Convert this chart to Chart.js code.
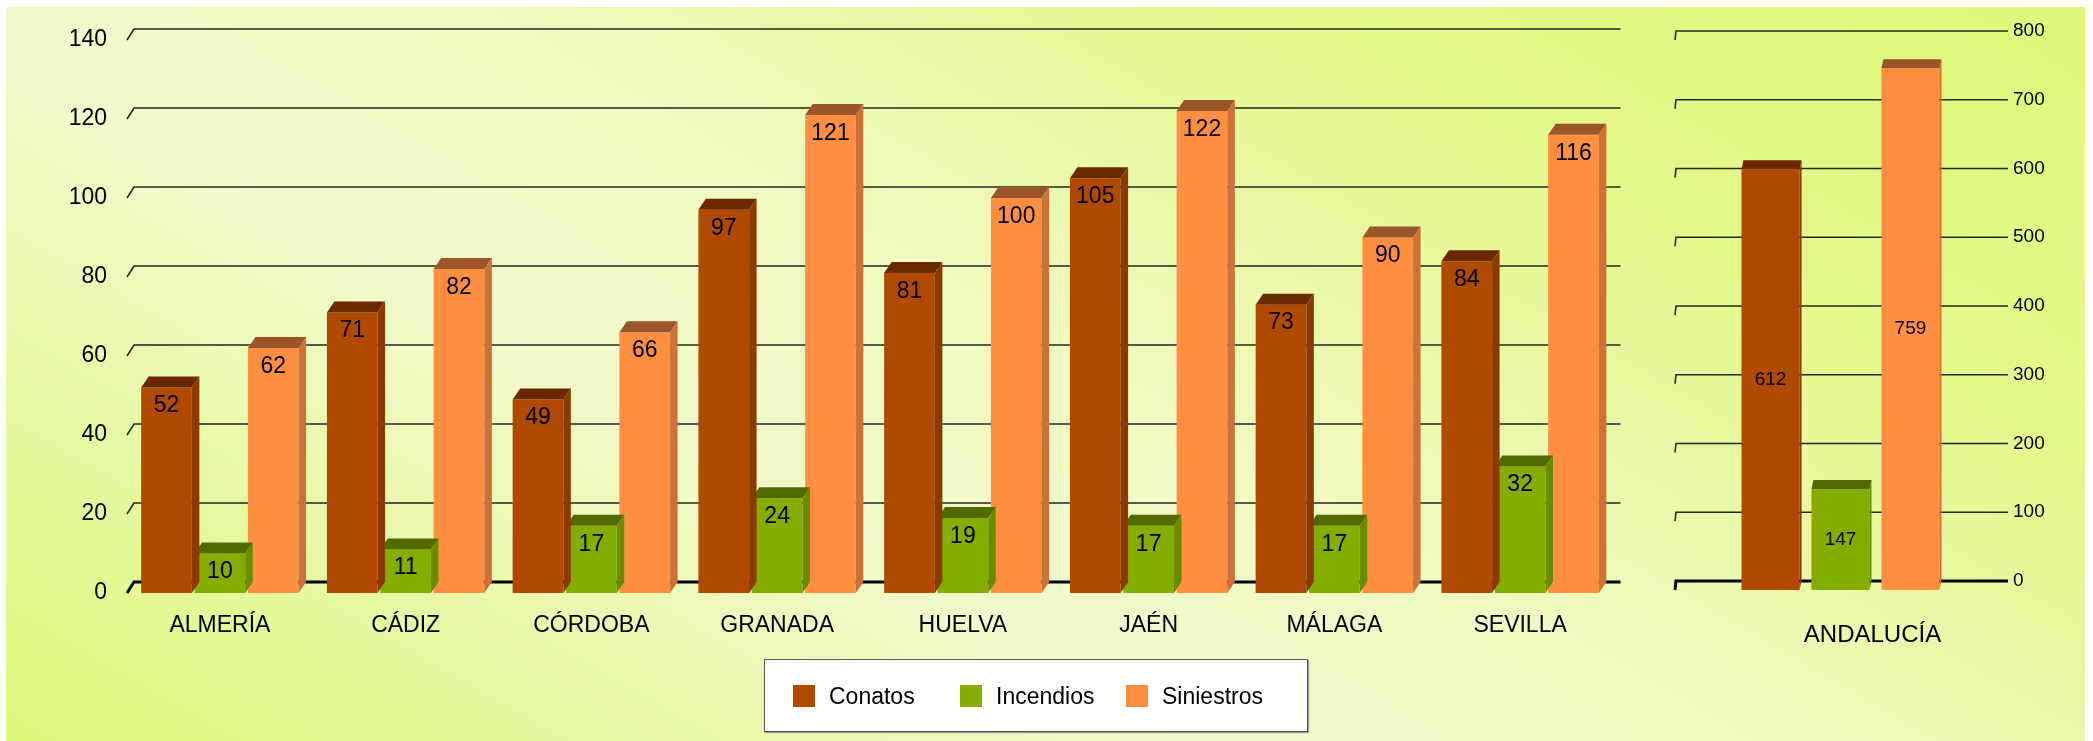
<!DOCTYPE html>
<html lang="es">
<head>
    <meta charset="UTF-8">
    <title>Conatos, incendios y siniestros por provincia</title>
    <script src="https://cdn.jsdelivr.net/npm/chart.js"></script>
    <style>
        body { margin: 0; width: 2093px; height: 741px; background: #fff; overflow: hidden;
               font-family: "Liberation Sans", Arial, sans-serif; }
        #fondo { position: absolute; left: 6px; top: 7px; width: 2079px; height: 734px;
                 background: linear-gradient(30deg, #def87a 0%, #f1f9cc 36%, #eff9c0 52%, #e4f88c 76%, #dff879 100%); }
        canvas { position: absolute; top: 0; }
        #izq { left: 0; }
        #der { left: 1640px; }
        #leyenda { position: absolute; left: 764px; top: 659px; width: 542px; height: 71px;
                   background: #fff; border: 1px solid #555; box-shadow: 1px 1px 1px #999; }
        #leyenda span { position: absolute; top: 25px; font-size: 23px; line-height: 23px; color: #000; }
        #leyenda i { position: absolute; top: 25px; width: 22px; height: 22px; }
    </style>
</head>
<body>
    <div id="fondo"></div>
    <canvas id="izq" width="1640" height="741"></canvas>
    <canvas id="der" width="453" height="741"></canvas>
    <div id="leyenda"></div>

    <script>
        // datos
        const provincias = ['ALMERÍA', 'CÁDIZ', 'CÓRDOBA', 'GRANADA', 'HUELVA', 'JAÉN', 'MÁLAGA', 'SEVILLA'];
        const conatos = [52, 71, 49, 97, 81, 105, 73, 84];
        const incendios = [10, 11, 17, 24, 19, 17, 17, 32];
        const siniestros = [62, 82, 66, 121, 100, 122, 90, 116];

        const total = ['ANDALUCÍA'];
        const totalConatos = [612];
        const totalIncendios = [147];
        const totalSiniestros = [759];

        const series = ['Conatos', 'Incendios', 'Siniestros'];
        const ejeIzq = { max: 140, paso: 20 };
        const ejeDer = { max: 800, paso: 100 };

        // colores: frente, tapa, lateral
        const colores = [
            ['#b04a00', '#6a2900', '#8c3a00'],
            ['#84ad00', '#506a00', '#6a8d00'],
            ['#ff8f40', '#9a5529', '#cd7136']
        ];

        const fuente = '"Liberation Sans", Arial, sans-serif';

        // dibuja rejilla en perspectiva y las caras 3D de las barras
        const cubo = {
            id: 'cubo',
            beforeDatasetsDraw(chart, args, o) {
                const ctx = chart.ctx, a = chart.chartArea, y = chart.scales.y;
                ctx.save();
                y.ticks.forEach(t => {
                    const py = y.getPixelForValue(t.value);
                    ctx.beginPath();
                    ctx.lineWidth = t.value === 0 ? 3 : 1.6;
                    ctx.strokeStyle = t.value === 0 ? '#000' : '#262620';
                    ctx.moveTo(a.left, py);
                    ctx.lineTo(a.left + o.gx, py - o.dy);
                    ctx.lineTo(a.right + o.dx, py - o.dy);
                    ctx.stroke();
                });
                ctx.restore();
            },
            afterDatasetDraw(chart, args, o) {
                const ctx = chart.ctx, c = colores[args.index];
                ctx.save();
                args.meta.data.forEach(bar => {
                    const p = bar.getProps(['x', 'y', 'base', 'width'], true);
                    const l = p.x - p.width / 2, r = p.x + p.width / 2;
                    ctx.fillStyle = c[1];
                    ctx.beginPath();
                    ctx.moveTo(l, p.y); ctx.lineTo(l + o.dx, p.y - o.dy);
                    ctx.lineTo(r + o.dx, p.y - o.dy); ctx.lineTo(r, p.y);
                    ctx.fill();
                    ctx.fillStyle = c[2];
                    ctx.beginPath();
                    ctx.moveTo(r, p.y); ctx.lineTo(r + o.dx, p.y - o.dy);
                    ctx.lineTo(r + o.dx, p.base - o.dy); ctx.lineTo(r, p.base);
                    ctx.fill();
                });
                ctx.restore();
            },
            afterDatasetsDraw(chart, args, o) {
                const ctx = chart.ctx;
                ctx.save();
                ctx.fillStyle = '#000';
                ctx.font = o.etiqueta + 'px ' + fuente;
                ctx.textAlign = 'center';
                ctx.textBaseline = 'middle';
                chart.data.datasets.forEach((ds, d) => {
                    chart.getDatasetMeta(d).data.forEach((bar, i) => {
                        const p = bar.getProps(['x', 'y', 'base'], true);
                        const ty = o.centro ? (p.y + p.base) / 2 : p.y + 18.5;
                        ctx.fillText(ds.data[i], p.x, ty);
                    });
                });
                ctx.restore();
            }
        };

        function datasets(a, b, c, cat, bar) {
            return [a, b, c].map((v, i) => ({
                label: series[i],
                data: v,
                backgroundColor: colores[i][0],
                borderWidth: 0,
                categoryPercentage: cat,
                barPercentage: bar
            }));
        }

        new Chart(document.getElementById('izq'), {
            type: 'bar',
            data: { labels: provincias, datasets: datasets(conatos, incendios, siniestros, 0.862, 0.95) },
            options: {
                responsive: false,
                animation: false,
                layout: { padding: { top: 40, right: 27, left: 0, bottom: 0 } },
                plugins: {
                    legend: { display: false },
                    tooltip: { enabled: false },
                    cubo: { dx: 7.5, dy: 11, gx: 7, etiqueta: 23, centro: false }
                },
                scales: {
                    x: {
                        grid: { display: false, drawTicks: false },
                        border: { display: false },
                        ticks: { color: '#000', font: { size: 23, family: fuente }, padding: 19, maxRotation: 0, autoSkip: false },
                        afterFit: s => { s.height = 148; }
                    },
                    y: {
                        min: 0, max: ejeIzq.max,
                        grid: { display: false, drawTicks: false },
                        border: { display: false },
                        ticks: { stepSize: ejeIzq.paso, color: '#000', font: { size: 23, family: fuente }, padding: 20 },
                        afterFit: s => { s.width = 127; }
                    }
                }
            },
            plugins: [cubo]
        });

        new Chart(document.getElementById('der'), {
            type: 'bar',
            data: { labels: total, datasets: datasets(totalConatos, totalIncendios, totalSiniestros, 0.634, 0.83) },
            options: {
                responsive: false,
                animation: false,
                layout: { padding: { top: 40, right: 0, left: 35, bottom: 0 } },
                plugins: {
                    legend: { display: false },
                    tooltip: { enabled: false },
                    cubo: { dx: 2, dy: 9, gx: 1, etiqueta: 19, centro: true }
                },
                scales: {
                    x: {
                        grid: { display: false, drawTicks: false },
                        border: { display: false },
                        ticks: { color: '#000', font: { size: 24, family: fuente }, padding: 31, labelOffset: 32, maxRotation: 0 },
                        afterFit: s => { s.height = 151; }
                    },
                    y: {
                        position: 'right',
                        min: 0, max: ejeDer.max,
                        grid: { display: false, drawTicks: false },
                        border: { display: false },
                        ticks: { stepSize: ejeDer.paso, color: '#000', font: { size: 19, family: fuente }, padding: 7, labelOffset: -9 },
                        afterFit: s => { s.width = 87; }
                    }
                }
            },
            plugins: [cubo]
        });

        // leyenda
        const ley = document.getElementById('leyenda');
        const posCuadro = [28, 195, 361];
        series.forEach((s, i) => {
            const q = document.createElement('i');
            q.style.left = posCuadro[i] + 'px';
            q.style.background = colores[i][0];
            const t = document.createElement('span');
            t.style.left = (posCuadro[i] + 36) + 'px';
            t.textContent = s;
            ley.appendChild(q);
            ley.appendChild(t);
        });
    </script>
</body>
</html>
